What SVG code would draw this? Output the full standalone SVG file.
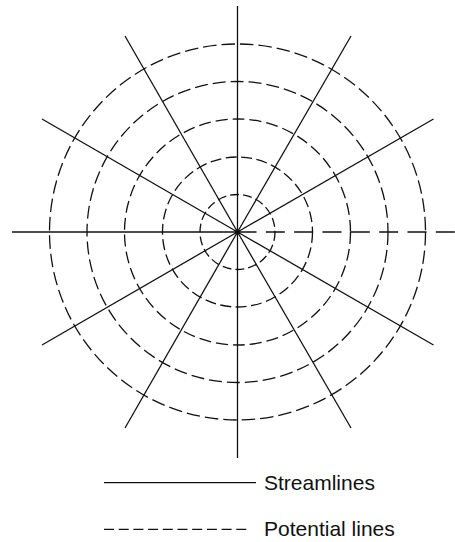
<svg xmlns="http://www.w3.org/2000/svg" width="455" height="542" viewBox="0 0 455 542">
<style>
.s{stroke:#111;stroke-width:1.3;fill:none}
.p{stroke:#111;stroke-width:1.3;fill:none}
.t{font-family:"Liberation Sans",Arial,sans-serif;font-size:21px;fill:#111}
</style>
<rect width="455" height="542" fill="#fff"/>
<g id="potential-lines">
<circle class="p" cx="237.5" cy="232" r="37.5" stroke-dasharray="9 4"/>
<circle class="p" cx="237.5" cy="232" r="75" stroke-dasharray="11 4.5"/>
<circle class="p" cx="237.5" cy="232" r="113" stroke-dasharray="12 5"/>
<circle class="p" cx="237.5" cy="232" r="150.5" stroke-dasharray="13 5"/>
<circle class="p" cx="237.5" cy="232" r="188" stroke-dasharray="13.5 5"/>
<line class="p" x1="237.5" y1="232" x2="455" y2="232" stroke-dasharray="19 9.33"/>
</g>
<g id="streamlines">
<line class="s" x1="237.5" y1="6" x2="237.5" y2="458"/>
<line class="s" x1="12" y1="232" x2="237.5" y2="232"/>
<line class="s" x1="237.5" y1="232" x2="433.5" y2="119" stroke-width="2"/>
<line class="s" x1="237.5" y1="232" x2="42" y2="119"/>
<line class="s" x1="237.5" y1="232" x2="125" y2="36"/>
<line class="s" x1="237.5" y1="232" x2="351" y2="36"/>
<line class="s" x1="237.5" y1="232" x2="42" y2="345"/>
<line class="s" x1="237.5" y1="232" x2="433.5" y2="345"/>
<line class="s" x1="237.5" y1="232" x2="125" y2="428"/>
<line class="s" x1="237.5" y1="232" x2="351" y2="428"/>
<circle cx="237.5" cy="232" r="2.5" fill="#111"/>
</g>
<g id="legend">
<line class="s" x1="104" y1="482.7" x2="256" y2="482.7"/>
<text class="t" x="264" y="490">Streamlines</text>
<line class="p" x1="104" y1="529.3" x2="247" y2="529.3" stroke-dasharray="10 4.7"/>
<text class="t" x="264" y="536">Potential lines</text>
</g>
</svg>
